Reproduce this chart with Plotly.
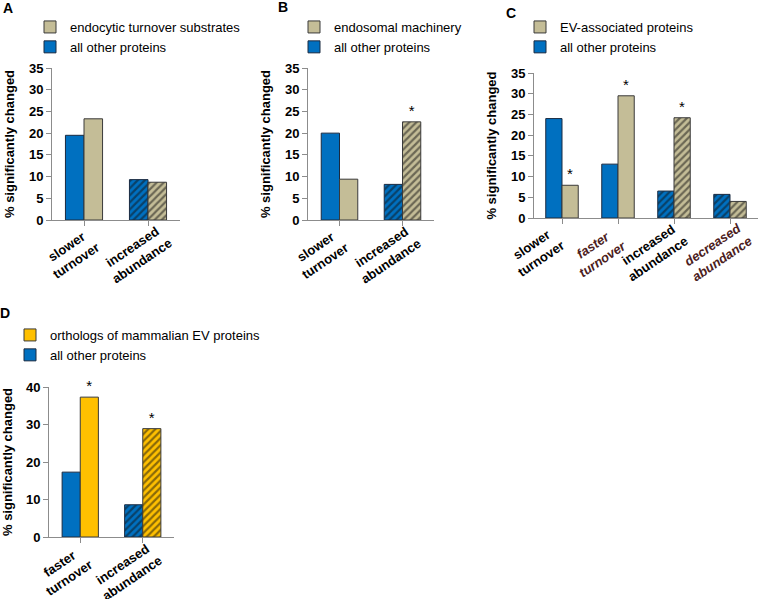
import plotly.graph_objects as go

W, H = 761, 599

# ---- data ----
cats_a = ["slower<br>turnover", "increased<br>abundance"]
other_a = [19.5, 9.3]
subset_a = [23.3, 8.7]

cats_b = ["slower<br>turnover", "increased<br>abundance"]
other_b = [20.0, 8.2]
subset_b = [9.4, 22.6]
star_b = ["", "*"]

cats_c = ["slower<br>turnover", "faster<br>turnover", "increased<br>abundance", "decreased<br>abundance"]
other_c = [24.0, 13.0, 6.5, 5.7]
subset_c = [7.9, 29.5, 24.2, 4.0]
star_c = ["*", "*", "*", ""]
italic_c = [False, True, False, True]

cats_d = ["faster<br>turnover", "increased<br>abundance"]
other_d = [17.3, 8.6]
subset_d = [37.3, 28.9]
star_d = ["*", "*"]

hatch_2 = ["", "/"]
hatch_4 = ["", "", "/", "/"]

BLUE = "#0070C0"
TAN = "#C4BD97"
GOLD = "#FFC000"
RED_BROWN = "#4b2020"
FONT = "Liberation Sans, Arial, sans-serif"


def px_x(x):
    return x / W


def px_y(y):
    return 1 - y / H


fig = go.Figure()

# key, cats, other, subset, stars, hatch, italic flags, subset colour, subset name,
# x-domain px, y-domain px, ymax, dtick, label xshifts, legend pos
panels = [
    ("", cats_a, other_a, subset_a, ["", ""], hatch_2, [False, False], TAN,
     "endocytic turnover substrates", (52, 180), (68, 220), 35, 5, [-13, -11], (30, 12)),
    ("2", cats_b, other_b, subset_b, star_b, hatch_2, [False, False], TAN,
     "endosomal machinery", (308, 434), (68, 220), 35, 5, [-19, -16], (294, 12)),
    ("3", cats_c, other_c, subset_c, star_c, hatch_4, italic_c, TAN,
     "EV-associated proteins", (534, 758), (73, 218), 35, 5, [-26, -20, -21, -13], (520, 12)),
    ("4", cats_d, other_d, subset_d, star_d, hatch_2, [False, False], GOLD,
     "orthologs of mammalian EV proteins", (49, 174), (387, 537), 40, 10, [-16, -15], (10, 320)),
]

for (k, cats, oth, sub, stars, hatch, ital, scol, sname,
     xd, yd, ymax, dt, lshift, lpos) in panels:
    xa = "x" + k
    ya = "y" + k
    leg = "legend" + k
    xs = list(range(len(cats)))

    fig.add_trace(go.Bar(
        x=xs, y=oth, name="all other proteins", xaxis=xa, yaxis=ya, legend=leg,
        marker=dict(color=BLUE, line=dict(color="#1a2a40", width=1),
                    pattern=dict(shape=hatch, fgcolor="#111111", bgcolor=BLUE,
                                 size=5, solidity=0.45)),
    ))
    fig.add_trace(go.Bar(
        x=xs, y=sub, name=sname, xaxis=xa, yaxis=ya, legend=leg,
        text=stars, textposition="outside", cliponaxis=False,
        textfont=dict(size=15, color="black", family=FONT),
        marker=dict(color=scol, line=dict(color="#3a3a3a", width=1),
                    pattern=dict(shape=hatch, fgcolor="#111111", bgcolor=scol,
                                 size=5, solidity=0.45)),
    ))

    fig.layout["xaxis" + k] = dict(
        domain=[px_x(xd[0]), px_x(xd[1])], anchor=ya,
        tickmode="array", tickvals=xs, showticklabels=False,
        range=[-0.5, len(cats) - 0.5],
        showline=True, linecolor="#8c8c8c", linewidth=1,
        ticks="outside", tickson="boundaries", ticklen=5, tickcolor="#8c8c8c",
        showgrid=False, zeroline=False, automargin=False,
    )
    fig.layout["yaxis" + k] = dict(
        domain=[px_y(yd[1]), px_y(yd[0])], anchor=xa,
        range=[0, ymax], dtick=dt, tick0=0,
        showline=True, linecolor="#8c8c8c", linewidth=1,
        ticks="outside", ticklen=5, tickcolor="#8c8c8c",
        tickfont=dict(family=FONT, size=13, color="black", weight="bold"),
        showgrid=False, zeroline=False, automargin=False,
        title=dict(text="% significantly changed", standoff=11,
                   font=dict(family=FONT, size=13, color="black", weight="bold")),
    )

    # rotated category labels
    for xi, (c, it) in enumerate(zip(cats, ital)):
        if it:
            txt = "<b><i>" + c.replace("<br>", "</i></b><br><b><i>") + "</i></b>"
            col = RED_BROWN
        else:
            txt = "<b>" + c.replace("<br>", "</b><br><b>") + "</b>"
            col = "black"
        fig.add_annotation(
            text=txt, x=xi, y=px_y(yd[1]), xref=xa, yref="paper",
            xanchor="center", yanchor="middle", xshift=lshift[xi], yshift=-34,
            textangle=-34, align="center", showarrow=False,
            font=dict(family=FONT, size=13, color=col),
        )

    fig.layout[leg] = dict(
        x=px_x(lpos[0]), y=px_y(lpos[1]), xanchor="left", yanchor="top",
        traceorder="reversed", bgcolor="rgba(0,0,0,0)",
        font=dict(family=FONT, size=13, color="black"),
        itemclick=False, tracegroupgap=0,
    )

for lab, x, y in [("A", 8, 8), ("B", 283, 7), ("C", 511, 13), ("D", 5, 313)]:
    fig.add_annotation(text="<b>" + lab + "</b>", x=px_x(x), y=px_y(y),
                       xref="paper", yref="paper", xanchor="center", yanchor="middle",
                       showarrow=False,
                       font=dict(family=FONT, size=14, color="black"))

fig.update_layout(
    width=W, height=H,
    margin=dict(l=0, r=0, t=0, b=0, autoexpand=False),
    paper_bgcolor="white", plot_bgcolor="white",
    barmode="group", bargap=0.42, bargroupgap=0,
    font=dict(family=FONT),
)

fig.write_html("out.html", config={"displayModeBar": False},
               post_script="document.body.style.margin='0';")
